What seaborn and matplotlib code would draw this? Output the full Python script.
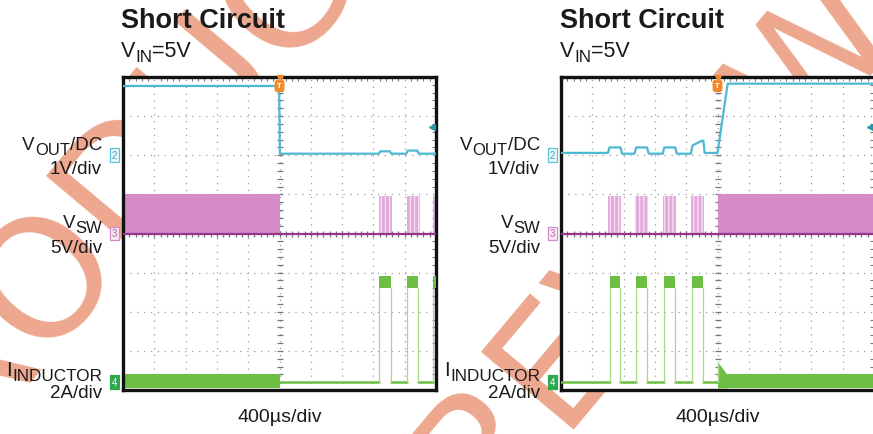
import numpy as np
import matplotlib
matplotlib.use("Agg")
import matplotlib.pyplot as plt
import matplotlib.transforms as mtransforms
import seaborn as sns

sns.set_theme(style="white")
plt.rcParams["font.family"] = ["Liberation Sans", "DejaVu Sans"]

# scope setup
T_DIV = 400                     # us/div, 10 divisions
CH2_POS, CH2_SCALE = 6.0, 1.0   # VOUT  (V/div)
CH3_POS, CH3_SCALE = 4.0, 5.0   # VSW   (V/div)
CH4_POS, CH4_SCALE = 0.2, 2.0   # IL    (A/div)

# ---- left capture: short applied at t = 0 ----
left_vout_t = [-2000, -5, 5, 1270, 1290, 1410, 1430, 1620, 1640, 1760, 1780, 2000]
left_vout_v = [1.77, 1.77, 0.04, 0.04, 0.10, 0.10, 0.04, 0.04, 0.12, 0.12, 0.04, 0.04]
left_vsw_band = (-2000, 0)
left_vsw_bursts = [(1270, 1440), (1630, 1790), (1960, 2000)]
left_il_band = (-2000, 0)
left_il_pulses = [(1275, 1420), (1625, 1770), (1965, 2000)]

# ---- right capture: short removed at t = 0 ----
right_vout_t = [-2000, -1400, -1380, -1240, -1220, -1060, -1040, -900, -880,
                -700, -680, -540, -520, -340, -320, -200, -180, -165, 0, 130, 2000]
right_vout_v = [0.06, 0.06, 0.20, 0.20, 0.04, 0.04, 0.20, 0.20, 0.04,
                0.04, 0.20, 0.20, 0.04, 0.04, 0.25, 0.37, 0.37, 0.06, 0.06, 1.83, 1.83]
right_vsw_band = (0, 2000)
right_vsw_bursts = [(-1400, -1230), (-1060, -890), (-700, -530), (-340, -170)]
right_il_band = (120, 2000)
right_il_pulses = [(-1380, -1250), (-1040, -900), (-690, -540), (-330, -180)]
right_il_spike_t = [0, 10, 120]
right_il_spike_a = [1.05, 1.0, 0.4]

VSW_HIGH, VSW_LOW = 5.0, -0.5      # V
IL_RIPPLE = (-0.3, 0.4)            # A, band while switching
IL_PEAK = (4.8, 5.45)              # A, during hiccup pulses

watermark_lines = ["PRODUCT", "PREVIEW"]

C_VOUT = "#4DB8D2"
C_VSW = "#D58BC7"
C_VSW_B = "#E2A9DA"
C_VSW_L = "#97358C"
C_IL = "#6CBF43"
C_IL_E = "#A6DA89"
C_TRIG = "#F08A2A"
C_WM = "#EDA78E"
C_TXT = "#1a1a1a"


def div2(v):
    return CH2_POS + np.asarray(v) / CH2_SCALE


def div3(v):
    return CH3_POS + np.asarray(v) / CH3_SCALE


def div4(a):
    return CH4_POS + np.asarray(a) / CH4_SCALE


def draw_capture(ax, vout_t, vout_v, vsw_band, bursts, il_band, pulses,
                 spike_t=None, spike_a=None):
    ax.set_facecolor("white")
    ax.set_xlim(-5 * T_DIV, 5 * T_DIV)
    ax.set_ylim(0, 8)
    ax.set_xticks(np.arange(-5, 6) * T_DIV)
    ax.set_yticks(np.arange(0, 9))
    ax.set_xticks(np.arange(-25, 26) * T_DIV / 5, minor=True)
    ax.set_yticks(np.arange(0, 41) / 5, minor=True)
    ax.tick_params(which="both", direction="in", top=True, right=True,
                   labelbottom=False, labelleft=False, color="#777777")
    ax.tick_params(which="major", length=0)
    ax.tick_params(which="minor", length=3, width=0.8)
    ax.grid(True, which="major", color="#9a9a9a", lw=0.9, ls=(0, (1, 4.5)))
    for s in ax.spines.values():
        s.set_color("#111111")
        s.set_linewidth(2.4)

    # centre cross ticks
    ax.plot(np.zeros(41), np.arange(0, 41) / 5, ls="none", marker="_",
            ms=5, mew=0.9, color="#777777", zorder=1)
    ax.plot(np.arange(-25, 26) * T_DIV / 5, np.full(51, 4.0), ls="none",
            marker="|", ms=5, mew=0.9, color="#777777", zorder=1)

    # VSW
    ax.fill_between(vsw_band, div3(0), div3(VSW_HIGH), color=C_VSW, lw=0, zorder=2)
    for b in bursts:
        ax.fill_between(b, div3(0), div3(VSW_HIGH * 0.96), facecolor=C_VSW_B,
                        edgecolor="#F6DDF1", hatch="||||", lw=0, zorder=2)
        ax.fill_between(b, div3(VSW_LOW * 0.2), div3(0), color=C_VSW_L, lw=0, zorder=3)
    ax.plot([-2000, 2000], [div3(0), div3(0)], color=C_VSW_L, lw=1.6, zorder=3)

    # inductor current
    ax.fill_between(il_band, div4(IL_RIPPLE[0]), div4(IL_RIPPLE[1]),
                    color=C_IL, lw=0, zorder=2)
    edges = [-2000] + [t for p in pulses for t in p] + [2000]
    for a, b in zip(edges[::2], edges[1::2]):
        lo = max(a, il_band[1]) if il_band[0] <= a else a
        hi = min(b, il_band[0]) if il_band[0] > a else b
        if hi > lo:
            ax.plot([lo, hi], [div4(0), div4(0)], color=C_IL, lw=1.8, zorder=3)
    for p in pulses:
        ax.fill_between(p, div4(IL_PEAK[0]), div4(IL_PEAK[1]), color=C_IL, lw=0, zorder=3)
        for t in p:
            if t < 2000:
                ax.plot([t, t], [div4(0), div4(IL_PEAK[0])], color=C_IL_E, lw=0.9, zorder=3)
    if spike_t is not None:
        ax.fill_between(spike_t, div4(IL_RIPPLE[0]), div4(spike_a), color=C_IL, lw=0, zorder=3)
        ax.plot([0, 0], [div4(0), div4(spike_a[0])], color=C_IL_E, lw=0.9, zorder=3)

    # output voltage
    sns.lineplot(x=vout_t, y=div2(vout_v), ax=ax, color=C_VOUT, lw=1.6,
                 sort=False, estimator=None, zorder=4)

    ax.set_xlabel("")
    ax.set_ylabel("")

    # trigger marker and trigger level
    ax.text(0, 7.77, "T", ha="center", va="center", fontsize=5.5, color="white",
            fontweight="bold", zorder=6,
            bbox=dict(boxstyle="round,pad=0.25", fc=C_TRIG, ec=C_TRIG))
    ax.plot([0], [7.98], marker="v", ms=4, color=C_TRIG, zorder=6, clip_on=False)
    ax.plot([1950], [6.73], marker="<", ms=4.5, color="#1E9AA8", zorder=6)

    # channel markers
    tr = mtransforms.blended_transform_factory(ax.transAxes, ax.transData)
    for y, lab, ec, fc, tc in [(CH2_POS, "2", "#5BC4D6", "#EAF7FA", "#3AA6BC"),
                               (CH3_POS, "3", "#D58BC7", "#F8EAF5", "#B461A6"),
                               (CH4_POS, "4", "#2FA84F", "#2FA84F", "white")]:
        ax.text(-0.027, y, lab, transform=tr, ha="center", va="center",
                fontsize=7, color=tc, clip_on=False, zorder=6,
                bbox=dict(boxstyle="square,pad=0.2", fc=fc, ec=ec, lw=0.9))


W, H = 873, 435
fig = plt.figure(figsize=(W / 100, H / 100), dpi=100)
fig.patch.set_facecolor("white")
renderer = fig.canvas.get_renderer()


def fx(x):
    return x / W


def fy(y):
    return 1 - y / H


def rich(x, y, parts, align="left"):
    # parts: (text, fontsize, baseline shift in px); laid out left to right
    texts = [fig.text(0, fy(y + dy), s, fontsize=size, ha="left",
                      va="baseline", color=C_TXT) for s, size, dy in parts]
    widths = [t.get_window_extent(renderer).width for t in texts]
    x0 = x - sum(widths) if align == "right" else x
    for t, w in zip(texts, widths):
        t.set_x(fx(x0))
        x0 += w


# watermark, two staggered lines behind the screen captures
for (x0, y0), word in zip([(-98, 517), (421, 593)], watermark_lines):
    fig.text(fx(x0), fy(y0), word, rotation=50, rotation_mode="anchor",
             ha="left", va="baseline", fontsize=119, color=C_WM,
             family="DejaVu Sans", zorder=-10)

ax_l = fig.add_axes([fx(123), fy(391), 313 / W, 313 / H])
ax_r = fig.add_axes([fx(561), fy(391), 313 / W, 313 / H])
draw_capture(ax_l, left_vout_t, left_vout_v, left_vsw_band, left_vsw_bursts,
             left_il_band, left_il_pulses)
draw_capture(ax_r, right_vout_t, right_vout_v, right_vsw_band, right_vsw_bursts,
             right_il_band, right_il_pulses, right_il_spike_t, right_il_spike_a)
ax_r.spines["right"].set_visible(False)

for x0 in (121, 560):
    fig.text(fx(x0), fy(28), "Short Circuit", fontsize=19.5, fontweight="bold",
             ha="left", va="baseline", color=C_TXT)
    rich(x0, 57, [("V", 15.5, 0), ("IN", 12.3, 5), ("=5V", 15.5, 0)])

for xr, xc in ((102, 280), (540, 718)):
    rich(xr, 150, [("V", 13.5, 0), ("OUT", 12.0, 5), ("/DC", 13.5, 0)], "right")
    rich(xr, 174, [("1V/div", 13.5, 0)], "right")
    rich(xr, 228, [("V", 13.5, 0), ("SW", 12.0, 5)], "right")
    rich(xr, 253, [("5V/div", 13.5, 0)], "right")
    rich(xr, 376, [("I", 14.5, 0), ("INDUCTOR", 12.3, 5)], "right")
    rich(xr, 398, [("2A/div", 13.5, 0)], "right")
    fig.text(fx(xc), fy(422), "400µs/div", ha="center", va="baseline",
             fontsize=14, color=C_TXT)

fig.savefig("out.png", dpi=100, facecolor="white")
